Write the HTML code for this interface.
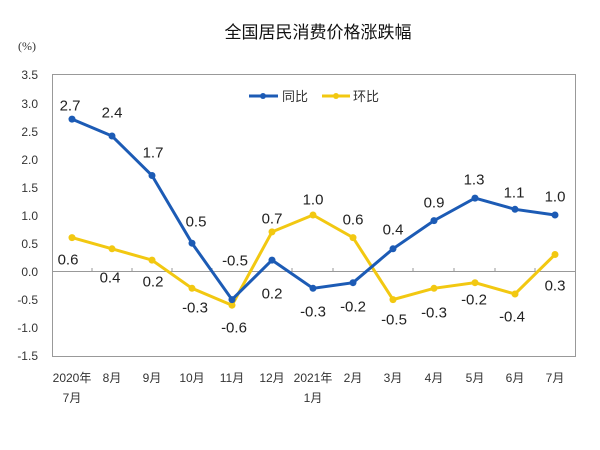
<!DOCTYPE html>
<html><head><meta charset="utf-8"><style>
html,body{margin:0;padding:0;background:#fff}
svg{display:block}
text{font-family:"Liberation Sans","Noto Sans CJK SC",sans-serif}
.t{font-family:"Liberation Serif","Noto Serif CJK SC",serif;font-size:12px;fill:#333}
.l{font-size:15px;fill:#222;text-anchor:middle;dominant-baseline:central}
</style></head><body>
<svg width="600" height="450" viewBox="0 0 600 450" xmlns="http://www.w3.org/2000/svg">
<text x="318" y="38" font-size="17" text-anchor="middle" fill="#111" font-family="'Noto Sans CJK SC',sans-serif">全国居民消费价格涨跌幅</text>
<text x="18" y="50" class="t">(%)</text>
<rect x="52.5" y="74.5" width="523" height="282" fill="none" stroke="#999" stroke-width="1"/>
<line x1="52" y1="271.5" x2="575" y2="271.5" stroke="#999"/>
<g stroke="#999">
<line x1="92" y1="268" x2="92" y2="272"/><line x1="132" y1="268" x2="132" y2="272"/><line x1="172" y1="268" x2="172" y2="272"/><line x1="212" y1="268" x2="212" y2="272"/><line x1="252" y1="268" x2="252" y2="272"/><line x1="292" y1="268" x2="292" y2="272"/><line x1="333" y1="268" x2="333" y2="272"/><line x1="373" y1="268" x2="373" y2="272"/><line x1="413" y1="268" x2="413" y2="272"/><line x1="454" y1="268" x2="454" y2="272"/><line x1="495" y1="268" x2="495" y2="272"/><line x1="535" y1="268" x2="535" y2="272"/>
</g>
<g class="t" text-anchor="end">
<text x="38" y="79">3.5</text><text x="38" y="108">3.0</text><text x="38" y="136">2.5</text><text x="38" y="164">2.0</text><text x="38" y="192">1.5</text><text x="38" y="220">1.0</text><text x="38" y="248">0.5</text><text x="38" y="276">0.0</text><text x="38" y="304">-0.5</text><text x="38" y="332">-1.0</text><text x="38" y="360">-1.5</text>
</g>
<g class="t" text-anchor="middle" font-size="12.5">
<text x="72" y="382">2020年</text><text x="72" y="402">7月</text>
<text x="112" y="382">8月</text><text x="152" y="382">9月</text><text x="192" y="382">10月</text><text x="232" y="382">11月</text><text x="272" y="382">12月</text>
<text x="313" y="382">2021年</text><text x="313" y="402">1月</text>
<text x="353" y="382">2月</text><text x="393" y="382">3月</text><text x="434" y="382">4月</text><text x="475" y="382">5月</text><text x="515" y="382">6月</text><text x="555" y="382">7月</text>
</g>
<polyline fill="none" stroke="#f2c811" stroke-width="3" points="72,237.6 112,248.8 152,260.1 192,288.3 232,305.2 272,231.9 313,215 353,237.6 393,299.6 434,288.3 475,282.7 515,294 555,254.5"/>
<g fill="#f2c811">
<circle cx="72" cy="237.6" r="3.5"/><circle cx="112" cy="248.8" r="3.5"/><circle cx="152" cy="260.1" r="3.5"/><circle cx="192" cy="288.3" r="3.5"/><circle cx="232" cy="305.2" r="3.5"/><circle cx="272" cy="231.9" r="3.5"/><circle cx="313" cy="215" r="3.5"/><circle cx="353" cy="237.6" r="3.5"/><circle cx="393" cy="299.6" r="3.5"/><circle cx="434" cy="288.3" r="3.5"/><circle cx="475" cy="282.7" r="3.5"/><circle cx="515" cy="294" r="3.5"/><circle cx="555" cy="254.5" r="3.5"/>
</g>
<polyline fill="none" stroke="#1c5bb5" stroke-width="3" points="72,119.1 112,136 152,175.5 192,243.2 232,299.6 272,260.1 313,288.3 353,282.7 393,248.8 434,220.6 475,198.1 515,209.3 555,215"/>
<g fill="#1c5bb5">
<circle cx="72" cy="119.1" r="3.5"/><circle cx="112" cy="136" r="3.5"/><circle cx="152" cy="175.5" r="3.5"/><circle cx="192" cy="243.2" r="3.5"/><circle cx="232" cy="299.6" r="3.5"/><circle cx="272" cy="260.1" r="3.5"/><circle cx="313" cy="288.3" r="3.5"/><circle cx="353" cy="282.7" r="3.5"/><circle cx="393" cy="248.8" r="3.5"/><circle cx="434" cy="220.6" r="3.5"/><circle cx="475" cy="198.1" r="3.5"/><circle cx="515" cy="209.3" r="3.5"/><circle cx="555" cy="215" r="3.5"/>
</g>
<g class="l">
<text x="70" y="106">2.7</text><text x="112" y="113">2.4</text><text x="153" y="153">1.7</text><text x="196" y="222">0.5</text><text x="235" y="261">-0.5</text><text x="272" y="294">0.2</text><text x="313" y="312">-0.3</text><text x="353" y="307">-0.2</text><text x="393" y="230">0.4</text><text x="434" y="203">0.9</text><text x="474" y="180">1.3</text><text x="514" y="193">1.1</text><text x="555" y="197">1.0</text>
<text x="68" y="260">0.6</text><text x="110" y="278">0.4</text><text x="153" y="282">0.2</text><text x="195" y="308">-0.3</text><text x="234" y="328">-0.6</text><text x="272" y="219">0.7</text><text x="313" y="200">1.0</text><text x="353" y="220">0.6</text><text x="394" y="320">-0.5</text><text x="434" y="313">-0.3</text><text x="474" y="300">-0.2</text><text x="512" y="317">-0.4</text><text x="555" y="286">0.3</text>
</g>
<line x1="249" y1="96" x2="278" y2="96" stroke="#1c5bb5" stroke-width="3"/><circle cx="263" cy="96" r="3" fill="#1c5bb5"/>
<text x="282" y="101" font-size="13" fill="#333" font-family="'Noto Sans CJK SC',sans-serif">同比</text>
<line x1="322" y1="96" x2="350" y2="96" stroke="#f2c811" stroke-width="3"/><circle cx="336" cy="96" r="3" fill="#f2c811"/>
<text x="353" y="101" font-size="13" fill="#333" font-family="'Noto Sans CJK SC',sans-serif">环比</text>
</svg>
</body></html>
